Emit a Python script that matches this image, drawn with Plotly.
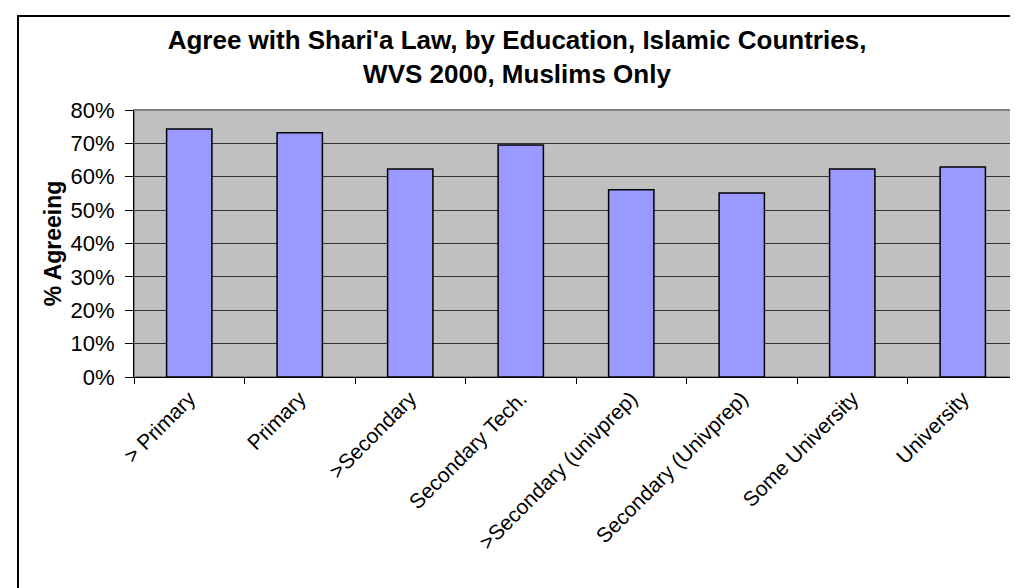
import plotly.graph_objects as go

categories = ["> Primary", "Primary", ">Secondary", "Secondary Tech.",
              ">Secondary (univprep)", "Secondary (Univprep)",
              "Some University", "University"]
pct_agreeing = [0.743, 0.732, 0.623, 0.695, 0.561, 0.551, 0.623, 0.629]

FONT = "Arial, Liberation Sans, sans-serif"

fig = go.Figure(go.Bar(
    x=categories,
    y=pct_agreeing,
    marker=dict(color="#9999FF", line=dict(color="black", width=1.5)),
))

fig.update_layout(
    width=1018, height=588,
    margin=dict(l=126, r=8, t=102, b=219),
    paper_bgcolor="white",
    plot_bgcolor="#C0C0C0",
    bargap=0.59,
    showlegend=False,
    font=dict(family=FONT, color="black"),
    title=dict(
        text="<b>Agree with Shari'a Law, by Education, Islamic Countries,<br>WVS 2000, Muslims Only</b>",
        x=0.5, xref="container", xanchor="center", y=0.93, yanchor="middle",
        font=dict(size=26, family=FONT),
    ),
)

fig.update_yaxes(
    range=[0, 0.8], dtick=0.1, tickformat=".0%",
    showgrid=True, gridcolor="#333333", gridwidth=1,
    showline=True, linecolor="black", linewidth=1,
    ticks="outside", ticklen=8, tickcolor="black",
    ticklabelstandoff=6,
    tickfont=dict(size=22),
    title=dict(text="<b>% Agreeing</b>", font=dict(size=23), standoff=2),
    zeroline=False,
)
fig.update_xaxes(
    tickangle=-45, tickfont=dict(size=21),
    showline=True, linecolor="black", linewidth=1,
    ticks="outside", ticklen=6, tickcolor="black", tickson="boundaries",
    showgrid=False,
)

# gray border on top/right of plot area (Excel style)
fig.add_shape(type="rect", xref="paper", yref="paper", x0=0, y0=0, x1=1, y1=1,
              line=dict(color="#808080", width=2), layer="below")

# outer chart frame, partly cropped by the picture edge
fig.add_shape(type="rect", xref="paper", yref="paper",
              x0=(10 - 126) / 884, y0=(369 - 620) / 267,
              x1=(1040 - 126) / 884, y1=(369 - 8) / 267,
              line=dict(color="black", width=2))

fig.write_html("out.html")
